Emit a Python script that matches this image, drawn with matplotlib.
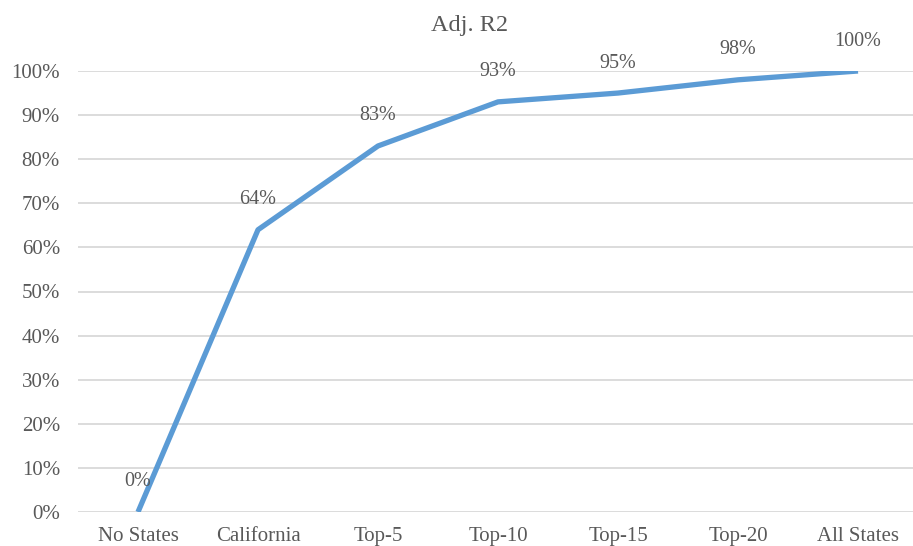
import matplotlib
matplotlib.use("Agg")
import matplotlib.pyplot as plt
from matplotlib.ticker import PercentFormatter

categories = ["No States", "California", "Top-5", "Top-10", "Top-15", "Top-20", "All States"]
adj_r2 = [0, 64, 83, 93, 95, 98, 100]
y_ticks = list(range(0, 101, 10))

plt.rcParams["font.family"] = ["Liberation Serif", "DejaVu Serif"]
text_color = "#595959"
line_color = "#5B9BD5"
grid_color = "#D9D9D9"

fig = plt.figure(figsize=(9.13, 5.46), dpi=100)
ax = fig.add_axes([78 / 913, 34 / 546, 840 / 913, 441 / 546])

x = list(range(len(categories)))
ax.plot(x, adj_r2, color=line_color, linewidth=3.8, solid_capstyle="butt",
        solid_joinstyle="round", zorder=3)

for xi, v in zip(x, adj_r2):
    ax.annotate(f"{v}%", (xi, v), xytext=(0, 30), textcoords="offset pixels",
                ha="center", va="center", fontsize=14.5, color=text_color, zorder=4)

ax.set_xlim(-0.5, len(categories) - 0.5)
ax.set_ylim(0, 100)
ax.set_yticks(y_ticks)
ax.yaxis.set_major_formatter(PercentFormatter(decimals=0))
ax.set_xticks(x)
ax.set_xticklabels(categories)

ax.grid(axis="y", color=grid_color, linewidth=1.3)
ax.set_axisbelow(True)
for s in ax.spines.values():
    s.set_visible(False)
ax.tick_params(axis="both", length=0, labelsize=15, labelcolor=text_color)
ax.tick_params(axis="y", pad=13)
ax.tick_params(axis="x", pad=11)

fig.text(470 / 913, 1 - 25 / 546, "Adj. R2", ha="center", va="center",
         fontsize=17.5, color=text_color)

fig.savefig("out.png", dpi=100)
